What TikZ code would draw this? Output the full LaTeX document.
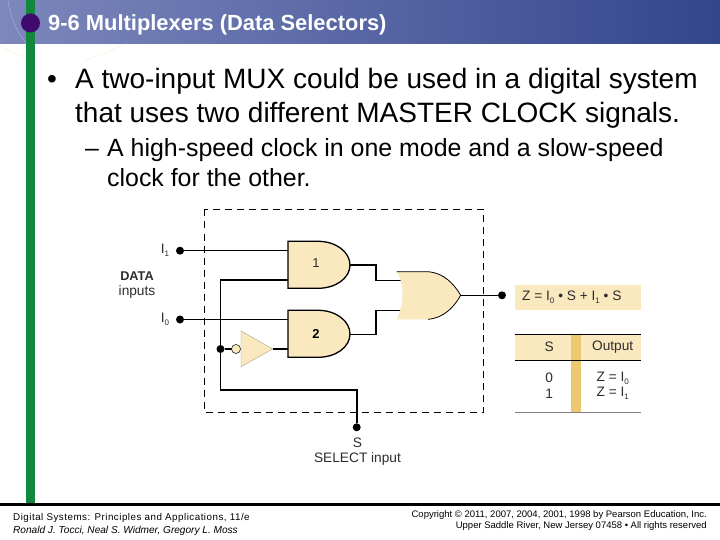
\documentclass[tikz,border=0pt]{standalone}
\usepackage{fontspec}
\setmainfont{Liberation Sans}
\newfontfamily\footwide[LetterSpace=5]{Liberation Sans}
\usetikzlibrary{calc}
\definecolor{gatefill}{RGB}{250,232,190}
\definecolor{stripfill}{RGB}{236,200,110}
\definecolor{headL}{RGB}{125,135,188}
\definecolor{headR}{RGB}{50,70,140}
\definecolor{barGreen}{RGB}{18,135,62}
\definecolor{dotPurple}{RGB}{62,10,110}
\definecolor{txtgray}{RGB}{45,45,45}
\newcommand{\fsz}[1]{\fontsize{#1}{#1}\selectfont}
\newcommand{\lowsub}[1]{\raisebox{-0.4ex}{\fsz{8}#1}}
\tikzset{
  x=1pt,y=-1pt,
  wire/.style={line width=1.2pt,black},
  thickwire/.style={line width=1.7pt,black},
  gate/.style={fill=gatefill,draw=black,line width=1.3pt},
  term/.style={circle,fill=black,inner sep=0pt,minimum size=8pt},
  lab/.style={inner sep=0pt,text=txtgray,font=\fsz{13.7}},
  body/.style={inner sep=0pt,anchor=base west,text=black,font=\fsz{28}},
  sub/.style={inner sep=0pt,anchor=base west,text=black,font=\fsz{24.9}},
  foot/.style={inner sep=0pt,anchor=base west,font=\fsz{9.5}}
}
\begin{document}
\begin{tikzpicture}
\useasboundingbox (0,0) rectangle (720,540);
\fill[white] (0,0) rectangle (720,540);
% header
\shade[left color=headL,right color=headR] (0,0) rectangle (720,44);
\draw[white,opacity=.35,line width=.5pt] (8,0) .. controls (10,18) and (18,34) .. (27,44);
\draw[gatefill,opacity=.7,line width=.5pt] (0,46) .. controls (10,52) and (22,57) .. (35,60);
\draw[gatefill,opacity=.7,line width=.5pt] (124,44) .. controls (112,50) and (100,56) .. (85,60);
\fill[barGreen] (26,0) rectangle (35,503);
\fill[dotPurple] (30.5,23) circle (9.5);
\node[inner sep=0pt,anchor=base west,text=white,font=\bfseries\fsz{21.9}] (title) at (48,31) {9-6 Multiplexers (Data Selectors)};
% body text
\node[body] (b0) at (47,89) {•};
\node[body] (b1) at (75,89) {A two-input MUX could be used in a digital system};
\node[body] (b2) at (75,123) {that uses two different MASTER CLOCK signals.};
\node[sub] (s0) at (85,157) {–};
\node[sub] (s1) at (107,157) {A high-speed clock in one mode and a slow-speed};
\node[sub] (s2) at (107,187) {clock for the other.};
% dashed box
\draw[black,line width=1pt,dash pattern=on 7pt off 5pt] (204,209.5) rectangle (483.5,412);
% formula and table
\fill[gatefill] (515,284.7) rectangle (641,310);
\fill[gatefill] (515,334.3) rectangle (641,360.3);
\fill[stripfill] (571,334.3) rectangle (580.7,412.3);
\draw[black,line width=.8pt] (515,334.3) -- (641,334.3);
\draw[black,line width=.8pt] (515,360.3) -- (641,360.3);
\draw[gray,line width=.8pt] (515,412.3) -- (641,412.3);
\node[lab,anchor=west] (fml) at (522,297) {Z = I\lowsub{0} • S + I\lowsub{1} • S};
\node[lab] (th1) at (549.3,347) {S};
\node[lab] (th2) at (612.7,347) {Output};
\node[lab] (r0a) at (549.3,378) {0};
\node[lab] (r1a) at (549.3,393.5) {1};
\node[lab] (r0b) at (612.7,378) {Z = I\lowsub{0}};
\node[lab] (r1b) at (612.7,393.5) {Z = I\lowsub{1}};
% terminals
\node[term] (i1) at (180,250.7) {};
\node[term] (i0) at (180,319.5) {};
\node[term] (sel) at (356.7,427.3) {};
\node[term] (out) at (502,295.3) {};
\node[term] (jn) at (220.5,349) {};
\coordinate (a1a) at (288,250.7);
\coordinate (a1b) at (288,279.7);
\coordinate (a2a) at (288,319.5);
\coordinate (a2b) at (288,349);
\coordinate (a1o) at (350,265);
\coordinate (a2o) at (350,334.3);
\coordinate (orA) at (401,280.7);
\coordinate (orB) at (401,310.7);
\coordinate (orO) at (460.7,295.3);
\coordinate (topc) at (220.5,279.7);
\coordinate (botc) at (220.5,390);
\coordinate (botr) at (356.7,390);
\coordinate (invO) at (272.7,349);
% wires
\draw[wire] (i1) -- (a1a);
\draw[wire] (i0) -- (a2a);
\draw[thickwire] (a1b) -- (topc) -- (botc) -- (botr) -- (sel);
\draw[wire] (invO) -- (a2b);
\draw[wire] (a1o) -- (376,265) -- (376,280.7) -- (orA);
\draw[wire] (a2o) -- (376,334.3) -- (376,310.7) -- (orB);
\draw[wire] (orO) -- (out);
% gates
\draw[gate] (288,241.3) -- (318,241.3) .. controls (336,241.3) and (350,252) .. (350,265)
  .. controls (350,278) and (336,288.3) .. (318,288.3) -- (288,288.3) -- cycle;
\draw[gate] (288,310.3) -- (318,310.3) .. controls (336,310.3) and (350,321) .. (350,334)
  .. controls (350,347) and (336,357.3) .. (318,357.3) -- (288,357.3) -- cycle;
\fill[gatefill] (396.7,271.7) -- (428,271.7) .. controls (444,273) and (454,284) .. (460.7,295.3)
  .. controls (454,307) and (444,318) .. (428,319.3) -- (396.7,319.3)
  .. controls (404,305) and (405,285) .. (396.7,271.7) -- cycle;
\draw[black,line width=.8pt] (396.7,271.7) -- (428,271.7) .. controls (444,273) and (454,284) .. (460.7,295.3)
  .. controls (454,307) and (444,318) .. (428,319.3);
\node[lab,text=txtgray,font=\fsz{13}] (g1) at (316,263.5) {1};
\node[lab,text=black,font=\bfseries\fsz{13}] (g2) at (316,334) {2};
% inverter
\fill[gatefill,draw=gatefill!70!black,line width=.4pt] (241,331) -- (272.7,349) -- (241,366.7) -- cycle;
\draw[wire] (jn) -- (231.5,349);
\draw[fill=gatefill,draw=black,line width=.5pt] (236,349) circle (4.5);
% labels
\node[lab] (li1) at (165,250.5) {I\lowsub{1}};
\node[lab] (li0) at (165,319.5) {I\lowsub{0}};
\node[lab,font=\bfseries\fsz{12.7}] (ld) at (137,276) {DATA};
\node[lab] (li) at (137,291.5) {inputs};
\node[lab] (ls) at (357.5,443) {S};
\node[lab] (lsi) at (357.5,459) {SELECT input};
% footer
\fill[black] (0,503) rectangle (720,506);
\node[foot,font=\footwide\fsz{9.8}] (f1) at (13,520) {Digital Systems: Principles and Applications, 11/e};
\node[foot,font=\itshape\fsz{10.1}] (f2) at (13,533) {Ronald J. Tocci, Neal S. Widmer, Gregory L. Moss};
\node[foot,anchor=base east] (f3) at (707,517) {Copyright © 2011, 2007, 2004, 2001, 1998 by Pearson Education, Inc.};
\node[foot,anchor=base east] (f4) at (707,528) {Upper Saddle River, New Jersey 07458 • All rights reserved};
\end{tikzpicture}
\end{document}
